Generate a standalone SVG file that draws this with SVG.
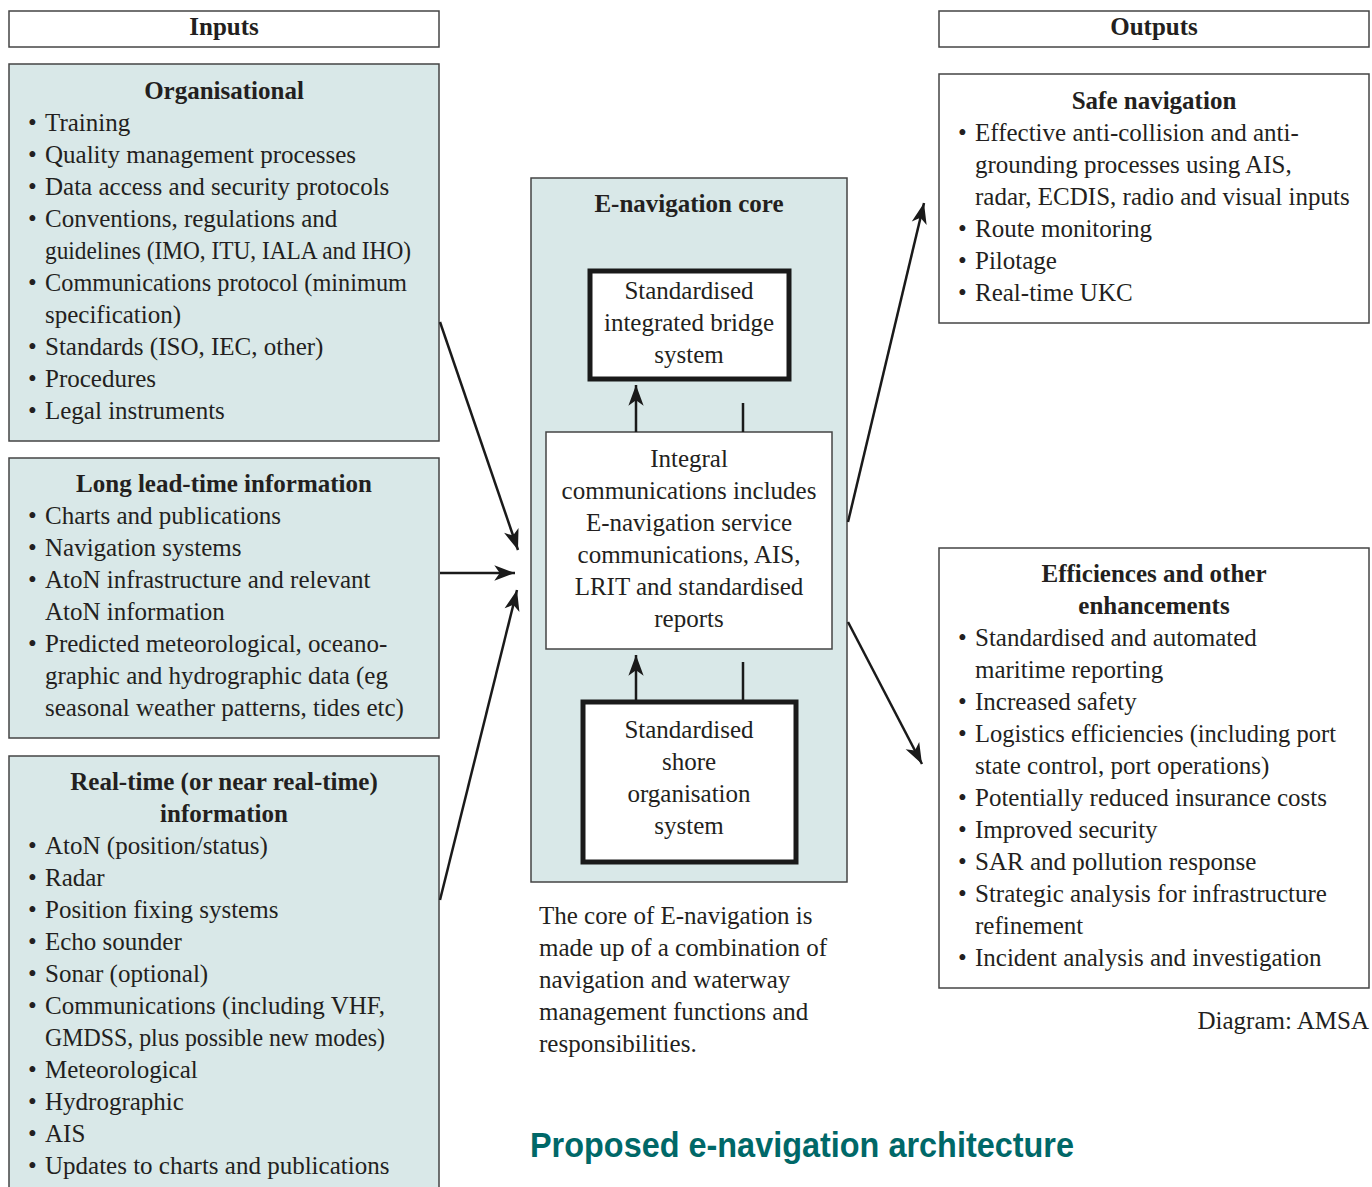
<svg xmlns="http://www.w3.org/2000/svg" width="1372" height="1187" viewBox="0 0 1372 1187">
<style>
text{font-family:"Liberation Serif","Times New Roman",serif;font-size:25px;fill:#231f20}
.b{font-weight:bold}
.c{text-anchor:middle}
.hdr{fill:#fff;stroke:#444;stroke-width:1.5}
.panel{fill:#d9e8e8;stroke:#444;stroke-width:1.5}
.wbox{fill:#fff;stroke:#444;stroke-width:1.5}
.thick{fill:#fff;stroke:#1a1a1a;stroke-width:5}
.ln{stroke:#1a1a1a;stroke-width:2.5;fill:none}
.title{font-family:"Liberation Sans Narrow","Arial Narrow","Liberation Sans",sans-serif;font-weight:bold;font-size:35px;fill:#006868}
</style>
<defs>
<marker id="ah" markerUnits="userSpaceOnUse" markerWidth="24" markerHeight="20" viewBox="-20 -8 22 16" refX="0" refY="0" orient="auto">
<path d="M0,0 L-19,-7 L-14,0 L-19,7 Z" fill="#1a1a1a"/>
</marker>
</defs>
<rect width="1372" height="1187" fill="#fff"/>

<g id="inputs-header">
<rect class="hdr" x="9" y="11" width="430" height="36"/>
<text class="b c" x="224" y="35">Inputs</text>
</g>
<g id="outputs-header">
<rect class="hdr" x="939" y="11" width="430" height="36"/>
<text class="b c" x="1154" y="35">Outputs</text>
</g>

<g id="organisational">
<rect class="panel" x="9" y="64" width="430" height="377"/>
<text class="b c" x="224" y="99">Organisational</text>
<text x="28" y="131">•</text><text x="45" y="131">Training</text>
<text x="28" y="163">•</text><text x="45" y="163">Quality management processes</text>
<text x="28" y="195">•</text><text x="45" y="195">Data access and security protocols</text>
<text x="28" y="227">•</text><text x="45" y="227">Conventions, regulations and</text>
<text x="45" y="259" textLength="366" lengthAdjust="spacingAndGlyphs">guidelines (IMO, ITU, IALA and IHO)</text>
<text x="28" y="291">•</text><text x="45" y="291" textLength="362" lengthAdjust="spacingAndGlyphs">Communications protocol (minimum</text>
<text x="45" y="323">specification)</text>
<text x="28" y="355">•</text><text x="45" y="355">Standards (ISO, IEC, other)</text>
<text x="28" y="387">•</text><text x="45" y="387">Procedures</text>
<text x="28" y="419">•</text><text x="45" y="419">Legal instruments</text>
</g>

<g id="long-lead">
<rect class="panel" x="9" y="458" width="430" height="280"/>
<text class="b c" x="224" y="492">Long lead-time information</text>
<text x="28" y="524">•</text><text x="45" y="524">Charts and publications</text>
<text x="28" y="556">•</text><text x="45" y="556">Navigation systems</text>
<text x="28" y="588">•</text><text x="45" y="588">AtoN infrastructure and relevant</text>
<text x="45" y="620">AtoN information</text>
<text x="28" y="652">•</text><text x="45" y="652">Predicted meteorological, oceano-</text>
<text x="45" y="684">graphic and hydrographic data (eg</text>
<text x="45" y="716">seasonal weather patterns, tides etc)</text>
</g>

<g id="real-time">
<rect class="panel" x="9" y="756" width="430" height="440"/>
<text class="b c" x="224" y="790">Real-time (or near real-time)</text>
<text class="b c" x="224" y="822">information</text>
<text x="28" y="854">•</text><text x="45" y="854">AtoN (position/status)</text>
<text x="28" y="886">•</text><text x="45" y="886">Radar</text>
<text x="28" y="918">•</text><text x="45" y="918">Position fixing systems</text>
<text x="28" y="950">•</text><text x="45" y="950">Echo sounder</text>
<text x="28" y="982">•</text><text x="45" y="982">Sonar (optional)</text>
<text x="28" y="1014">•</text><text x="45" y="1014">Communications (including VHF,</text>
<text x="45" y="1046" textLength="340" lengthAdjust="spacingAndGlyphs">GMDSS, plus possible new modes)</text>
<text x="28" y="1078">•</text><text x="45" y="1078">Meteorological</text>
<text x="28" y="1110">•</text><text x="45" y="1110">Hydrographic</text>
<text x="28" y="1142">•</text><text x="45" y="1142">AIS</text>
<text x="28" y="1174">•</text><text x="45" y="1174">Updates to charts and publications</text>
</g>

<g id="core">
<rect class="panel" x="531" y="178" width="316" height="704"/>
<text class="b c" x="689" y="212">E-navigation core</text>
</g>
<g id="bridge">
<rect class="thick" x="590" y="271" width="199" height="108"/>
<text class="c" x="689" y="299">Standardised</text>
<text class="c" x="689" y="331">integrated bridge</text>
<text class="c" x="689" y="363">system</text>
</g>
<g id="integral">
<rect class="wbox" x="546" y="432" width="286" height="217"/>
<text class="c" x="689" y="467">Integral</text>
<text class="c" x="689" y="499">communications includes</text>
<text class="c" x="689" y="531">E-navigation service</text>
<text class="c" x="689" y="563">communications, AIS,</text>
<text class="c" x="689" y="595">LRIT and standardised</text>
<text class="c" x="689" y="627">reports</text>
</g>
<g id="shore">
<rect class="thick" x="583" y="702" width="213" height="160"/>
<text class="c" x="689" y="738">Standardised</text>
<text class="c" x="689" y="770">shore</text>
<text class="c" x="689" y="802">organisation</text>
<text class="c" x="689" y="834">system</text>
</g>

<g id="caption">
<text x="539" y="924">The core of E-navigation is</text>
<text x="539" y="956">made up of a combination of</text>
<text x="539" y="988">navigation and waterway</text>
<text x="539" y="1020">management functions and</text>
<text x="539" y="1052">responsibilities.</text>
</g>

<g id="safe-navigation">
<rect class="wbox" x="939" y="74" width="430" height="249"/>
<text class="b c" x="1154" y="109">Safe navigation</text>
<text x="958" y="141">•</text><text x="975" y="141">Effective anti-collision and anti-</text>
<text x="975" y="173">grounding processes using AIS,</text>
<text x="975" y="205">radar, ECDIS, radio and visual inputs</text>
<text x="958" y="237">•</text><text x="975" y="237">Route monitoring</text>
<text x="958" y="269">•</text><text x="975" y="269">Pilotage</text>
<text x="958" y="301">•</text><text x="975" y="301">Real-time UKC</text>
</g>

<g id="efficiencies">
<rect class="wbox" x="939" y="548" width="430" height="440"/>
<text class="b c" x="1154" y="582">Efficiences and other</text>
<text class="b c" x="1154" y="614">enhancements</text>
<text x="958" y="646">•</text><text x="975" y="646">Standardised and automated</text>
<text x="975" y="678">maritime reporting</text>
<text x="958" y="710">•</text><text x="975" y="710">Increased safety</text>
<text x="958" y="742">•</text><text x="975" y="742" textLength="361" lengthAdjust="spacingAndGlyphs">Logistics efficiencies (including port</text>
<text x="975" y="774">state control, port operations)</text>
<text x="958" y="806">•</text><text x="975" y="806">Potentially reduced insurance costs</text>
<text x="958" y="838">•</text><text x="975" y="838">Improved security</text>
<text x="958" y="870">•</text><text x="975" y="870">SAR and pollution response</text>
<text x="958" y="902">•</text><text x="975" y="902">Strategic analysis for infrastructure</text>
<text x="975" y="934">refinement</text>
<text x="958" y="966">•</text><text x="975" y="966">Incident analysis and investigation</text>
</g>

<g id="connectors">
<line class="ln" x1="440" y1="322" x2="518" y2="550" marker-end="url(#ah)"/>
<line class="ln" x1="440" y1="573" x2="515" y2="573" marker-end="url(#ah)"/>
<line class="ln" x1="440" y1="900" x2="517" y2="590" marker-end="url(#ah)"/>
<line class="ln" x1="848" y1="522" x2="924" y2="203" marker-end="url(#ah)"/>
<line class="ln" x1="848" y1="622" x2="922" y2="764" marker-end="url(#ah)"/>
<line class="ln" x1="636" y1="432" x2="636" y2="385" marker-end="url(#ah)"/>
<line class="ln" x1="743" y1="432" x2="743" y2="403"/>
<line class="ln" x1="636" y1="700" x2="636" y2="655" marker-end="url(#ah)"/>
<line class="ln" x1="743" y1="700" x2="743" y2="662"/>
</g>

<text x="1369" y="1029" style="text-anchor:end">Diagram: AMSA</text>
<text class="title" x="530" y="1157" textLength="544" lengthAdjust="spacingAndGlyphs">Proposed e-navigation architecture</text>
</svg>
